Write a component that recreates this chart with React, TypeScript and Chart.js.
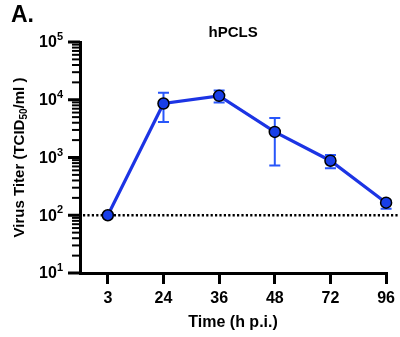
import React, { useEffect, useRef } from "react";
import { Chart, registerables } from "chart.js";

Chart.register(...registerables);

const xLabels = ["3", "24", "36", "48", "72", "96"];
const titer = [100, 8600, 11700, 2770, 880, 165];
const errUpper: (number | null)[] = [null, 13200, 14500, 4850, 1100, 180];
const errLower: (number | null)[] = [null, 4100, 9000, 730, 650, 130];
const yExponents = [1, 2, 3, 4, 5];
const limitOfDetection = 100;

const FONT = '"Liberation Sans", Arial, Helvetica, sans-serif';
const LINE_BLUE = "rgb(28, 52, 228)";
const POINT_BLUE = "rgb(24, 62, 232)";
const ERR_BLUE = "rgb(40, 86, 250)";

const decorPlugin = {
  id: "decor",
  beforeDatasetsDraw(chart: any) {
    const ctx = chart.ctx;
    const xs = chart.scales.x;
    const ys = chart.scales.y;
    const area = chart.chartArea;
    ctx.save();
    const yL = ys.getPixelForValue(limitOfDetection);
    ctx.strokeStyle = "#000";
    ctx.lineWidth = 2.5;
    ctx.setLineDash([2.2, 2.2]);
    ctx.beginPath();
    ctx.moveTo(area.left + 3, yL);
    ctx.lineTo(398, yL);
    ctx.stroke();
    ctx.setLineDash([]);
    ctx.strokeStyle = ERR_BLUE;
    ctx.lineWidth = 2;
    for (let i = 0; i < titer.length; i++) {
      const hi = errUpper[i];
      const lo = errLower[i];
      if (hi == null || lo == null) continue;
      const x = xs.getPixelForValue(i);
      const y1 = ys.getPixelForValue(hi);
      const y2 = ys.getPixelForValue(lo);
      ctx.beginPath();
      ctx.moveTo(x, y1);
      ctx.lineTo(x, y2);
      ctx.moveTo(x - 5.5, y1);
      ctx.lineTo(x + 5.5, y1);
      ctx.moveTo(x - 5.5, y2);
      ctx.lineTo(x + 5.5, y2);
      ctx.stroke();
    }
    ctx.restore();
  },
  afterDraw(chart: any) {
    const ctx = chart.ctx;
    const ys = chart.scales.y;
    const area = chart.chartArea;
    ctx.save();
    ctx.fillStyle = "#000";
    ctx.strokeStyle = "#000";
    const left = area.left;
    for (let e = yExponents[0]; e <= yExponents[yExponents.length - 1]; e++) {
      const yMaj = ys.getPixelForValue(Math.pow(10, e));
      ctx.lineWidth = 3;
      ctx.beginPath();
      ctx.moveTo(left - 12, yMaj);
      ctx.lineTo(left, yMaj);
      ctx.stroke();
      if (e < yExponents[yExponents.length - 1]) {
        ctx.lineWidth = 2;
        for (let m = 2; m <= 9; m++) {
          const y = ys.getPixelForValue(m * Math.pow(10, e));
          ctx.beginPath();
          ctx.moveTo(left - 8, y);
          ctx.lineTo(left, y);
          ctx.stroke();
        }
      }
    }
    for (const e of yExponents) {
      const y = ys.getPixelForValue(Math.pow(10, e));
      const expText = String(e);
      ctx.font = `bold 11px ${FONT}`;
      const wExp = ctx.measureText(expText).width;
      ctx.font = `bold 16px ${FONT}`;
      const wBase = ctx.measureText("10").width;
      const right = left - 17;
      ctx.textBaseline = "middle";
      ctx.textAlign = "left";
      ctx.fillText("10", right - wExp - wBase, y + 1);
      ctx.font = `bold 11px ${FONT}`;
      ctx.fillText(expText, right - wExp, y - 5);
    }
    const cy = (area.top + area.bottom) / 2;
    const p1 = "Virus Titer (TCID";
    const sub = "50";
    const p2 = "/ml )";
    ctx.font = `bold 15px ${FONT}`;
    const w1 = ctx.measureText(p1).width;
    const w3 = ctx.measureText(p2).width;
    ctx.font = `bold 10px ${FONT}`;
    const w2 = ctx.measureText(sub).width;
    const total = w1 + w2 + w3;
    ctx.translate(20, cy);
    ctx.rotate(-Math.PI / 2);
    ctx.textAlign = "left";
    ctx.textBaseline = "middle";
    const x0 = -total / 2;
    ctx.font = `bold 15px ${FONT}`;
    ctx.fillText(p1, x0, 0);
    ctx.font = `bold 10px ${FONT}`;
    ctx.fillText(sub, x0 + w1, 4);
    ctx.font = `bold 15px ${FONT}`;
    ctx.fillText(p2, x0 + w1 + w2, 0);
    ctx.restore();

    ctx.save();
    ctx.fillStyle = "#000";
    ctx.textBaseline = "alphabetic";
    ctx.textAlign = "left";
    ctx.font = `bold 23px ${FONT}`;
    ctx.fillText("A.", 11, 22);
    ctx.textAlign = "center";
    ctx.font = `bold 15px ${FONT}`;
    ctx.fillText("hPCLS", (area.left + area.right) / 2, 37);
    ctx.restore();
  },
};

export default function App() {
  const ref = useRef<HTMLCanvasElement | null>(null);
  useEffect(() => {
    document.body.style.margin = "0";
    const canvas = ref.current;
    if (!canvas) return;
    const chart = new Chart(canvas, {
      type: "line",
      data: {
        datasets: [
          {
            data: titer.map((v, i) => ({ x: i, y: v })),
            borderColor: LINE_BLUE,
            borderWidth: 3.2,
            pointRadius: 5.5,
            pointBorderWidth: 1.5,
            pointBorderColor: "#000",
            pointBackgroundColor: POINT_BLUE,
            tension: 0,
            clip: false as any,
          },
        ],
      },
      options: {
        animation: false,
        responsive: false,
        devicePixelRatio: 1,
        layout: { padding: { top: 42, right: 10, left: 0, bottom: 0 } },
        plugins: { legend: { display: false }, tooltip: { enabled: false }, title: { display: false } },
        scales: {
          x: {
            type: "linear",
            min: -0.5,
            max: 5,
            afterBuildTicks: (scale: any) => {
              scale.ticks = xLabels.map((_, i) => ({ value: i }));
            },
            afterFit: (scale: any) => {
              scale.height = 64;
            },
            ticks: {
              callback: (v: any) => xLabels[v] ?? "",
              color: "#000",
              font: { family: FONT, size: 16, weight: "bold" },
              padding: 5,
              maxRotation: 0,
              autoSkip: false,
            },
            grid: {
              display: true,
              drawOnChartArea: false,
              drawTicks: true,
              tickLength: 11,
              lineWidth: 3,
              color: "#000",
            },
            border: { display: true, width: 3, color: "#000" },
            title: {
              display: true,
              text: "Time (h p.i.)",
              color: "#000",
              font: { family: FONT, size: 16, weight: "bold" },
              padding: { top: 0, bottom: 5 },
            },
          },
          y: {
            type: "logarithmic",
            min: 10,
            max: 100000,
            afterFit: (scale: any) => {
              scale.width = 80;
            },
            ticks: { display: false },
            grid: { display: false, drawTicks: false },
            border: { display: true, width: 3, color: "#000" },
          },
        },
      } as any,
      plugins: [decorPlugin],
    });
    return () => chart.destroy();
  }, []);
  return (
    <div style={{ width: 400, height: 337, background: "#fff" }}>
      <canvas ref={ref} width={400} height={337} style={{ display: "block" }} />
    </div>
  );
}
